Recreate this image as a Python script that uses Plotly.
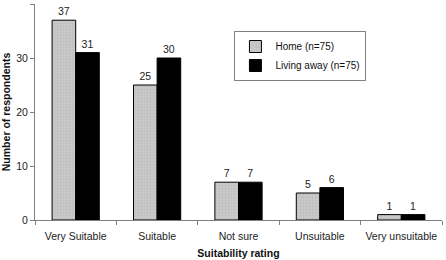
import plotly.graph_objects as go

categories = ["Very Suitable", "Suitable", "Not sure", "Unsuitable", "Very unsuitable"]
home = [37, 25, 7, 5, 1]
away = [31, 30, 7, 6, 1]
series_names = ["Home (n=75)", "Living away (n=75)"]
y_ticks = [0, 10, 20, 30, 40]

font = "Liberation Sans, Arial, sans-serif"

fig = go.Figure()
fig.add_trace(go.Bar(
    x=categories, y=home, name=series_names[0],
    marker=dict(color="#c4c4c4", line=dict(color="black", width=1),
                pattern=dict(shape=".", fgcolor="#aaaaaa", bgcolor="#c8c8c8", size=3, solidity=0.2)),
    text=home, textposition="outside", cliponaxis=False,
    textfont=dict(size=10.5, color="#222", family=font),
))
fig.add_trace(go.Bar(
    x=categories, y=away, name=series_names[1],
    marker=dict(color="black", line=dict(color="black", width=1)),
    text=away, textposition="outside", cliponaxis=False,
    textfont=dict(size=10.5, color="#222", family=font),
))

fig.update_layout(
    width=446, height=260,
    margin=dict(l=35, r=4, t=4, b=40),
    paper_bgcolor="white", plot_bgcolor="white",
    barmode="group", bargap=0.42, bargroupgap=0,
    font=dict(family=font, size=10.5, color="#222"),
    showlegend=True,
    legend=dict(x=0.49, y=0.875, xanchor="left", yanchor="top",
                bordercolor="#808080", borderwidth=1, bgcolor="white",
                font=dict(size=10, family=font, color="#111"),
                tracegroupgap=0, itemwidth=30),
)
fig.update_xaxes(
    automargin=False,
    showline=True, linecolor="#808080", linewidth=1,
    ticks="outside", tickson="boundaries", ticklen=4, tickcolor="#808080",
    ticklabelstandoff=6,
    tickfont=dict(size=10.5, family=font, color="#222"),
    title=dict(text="<b>Suitability rating</b>", font=dict(size=10.5, family=font, color="#111"), standoff=9),
)
fig.update_yaxes(
    automargin=False,
    range=[0, 40], tickvals=y_ticks, showgrid=False, zeroline=False,
    showline=True, linecolor="#808080", linewidth=1,
    ticks="outside", ticklen=4, tickcolor="#808080",
    tickfont=dict(size=10.5, family=font, color="#222"),
    title=dict(text="<b>Number of respondents</b>", font=dict(size=10.5, family=font, color="#111"), standoff=4),
)

fig.write_html("out.html")
